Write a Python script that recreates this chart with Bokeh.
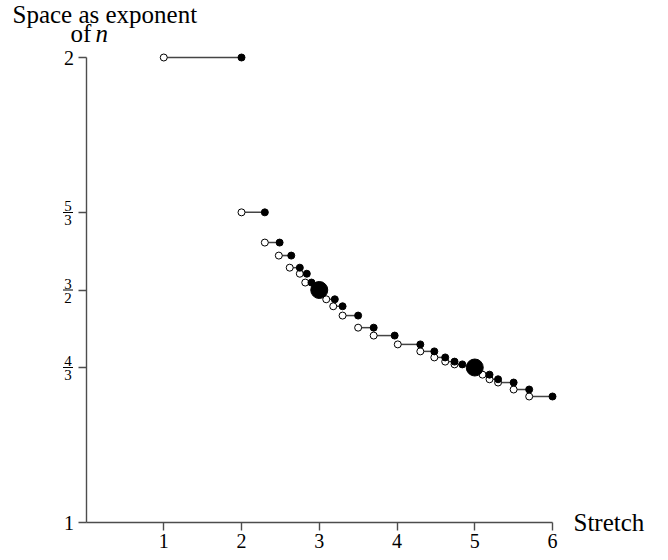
from bokeh.plotting import figure
from bokeh.models import Range1d, FixedTicker, ColumnDataSource
from bokeh.embed import file_html
from bokeh.resources import INLINE

# ---- data ----
seg_start = [1.00, 2.00, 2.30, 2.48, 2.62, 2.75, 2.82, 3.09, 3.18, 3.30, 3.50, 3.70, 4.01, 4.30, 4.48, 4.62, 4.74, 5.10, 5.19, 5.30, 5.50, 5.70]
seg_end = [2.00, 2.30, 2.49, 2.64, 2.75, 2.84, 2.90, 3.20, 3.30, 3.50, 3.70, 3.97, 4.30, 4.48, 4.62, 4.74, 4.84, 5.19, 5.30, 5.50, 5.70, 6.00]
space_exp = [2.0, 1.667, 1.602, 1.574, 1.548, 1.535, 1.516, 1.480, 1.465, 1.445, 1.419, 1.402,
             1.383, 1.368, 1.355, 1.346, 1.340, 1.318, 1.308, 1.301, 1.286, 1.271]
big_x = [3, 5]
big_y = [3 / 2, 4 / 3]

x_ticks = [1, 2, 3, 4, 5, 6]
y_ticks = [1, 4 / 3, 3 / 2, 5 / 3, 2]
y_plain_labels = {1: "1", 2: "2"}
frac_num = ["4", "3", "5"]
frac_den = ["3", "2", "3"]
frac_val = [4 / 3, 3 / 2, 5 / 3]

FONT = "Liberation Serif"
AX = "#4d4d4d"

# layout (pixels): canvas size, where x=0 / y=1 sit, pixels per unit
W, H = 668, 560
ORIG_X, ORIG_Y = 85.5, 522.0
PX_X, PX_Y = 77.75, 465.0


def dx(px):
    return (px - ORIG_X) / PX_X


def dy(py):
    return 1 + (ORIG_Y - py) / PX_Y


x_range = Range1d(dx(0), dx(W))
y_range = Range1d(dy(H), dy(0))

p = figure(width=W, height=H, x_range=x_range, y_range=y_range,
           output_backend="svg", toolbar_location=None,
           min_border=0, min_border_left=0, min_border_right=0,
           min_border_top=0, min_border_bottom=0)
p.outline_line_color = None
p.grid.visible = False
p.background_fill_color = "white"
p.border_fill_color = "white"

# axes, drawn through the frame at x=0 and y=1
p.xaxis.fixed_location = 1
p.yaxis.fixed_location = 0
p.xaxis.ticker = FixedTicker(ticks=x_ticks)
p.xaxis.bounds = (0, 6)
p.yaxis.ticker = FixedTicker(ticks=y_ticks)
p.yaxis.bounds = (1, 2)
p.yaxis.major_label_overrides = {t: y_plain_labels.get(t, "") for t in y_ticks}
for ax in (p.xaxis[0], p.yaxis[0]):
    ax.axis_line_color = AX
    ax.axis_line_width = 1.4
    ax.major_tick_line_color = AX
    ax.major_tick_line_width = 1.4
    ax.major_tick_in = 0
    ax.major_tick_out = 8
    ax.minor_tick_line_color = None
    ax.major_label_text_font = FONT
    ax.major_label_text_font_size = "20px"
    ax.major_label_text_color = "black"
p.xaxis.major_label_standoff = 3
p.yaxis.major_label_standoff = 4

# segments and markers
src = ColumnDataSource(dict(x0=seg_start, x1=seg_end, y=space_exp))
p.segment(x0="x0", y0="y", x1="x1", y1="y", source=src, line_color="#444444", line_width=1.5)
p.scatter(x="x0", y="y", source=src, marker="circle", size=7, fill_color="white",
          line_color="black", line_width=1)
p.scatter(x="x1", y="y", source=src, marker="circle", size=7, fill_color="black",
          line_color="black", line_width=1)
p.scatter(x=big_x, y=big_y, marker="circle", size=17, fill_color="black", line_color="black")

# stacked fraction tick labels
fsrc = ColumnDataSource(dict(num=frac_num, den=frac_den, y=frac_val,
                             x=[dx(67.5)] * len(frac_val)))
p.text(x="x", y="y", text="num", source=fsrc, y_offset=-1.5, text_align="center",
       text_baseline="bottom", text_font=FONT, text_font_size="15px", text_color="black")
p.text(x="x", y="y", text="den", source=fsrc, y_offset=2.5, text_align="center",
       text_baseline="top", text_font=FONT, text_font_size="15px", text_color="black")
p.scatter(x="x", y="y", source=fsrc, marker="dash", size=10, line_color="black", line_width=1)

# titles (pixel anchors converted to data space)
titles = ColumnDataSource(dict(
    x=[dx(12), dx(70)],
    y=[dy(14), dy(33)],
    t=["Space as exponent", "of"],
))
p.text(x="x", y="y", text="t", source=titles, text_align="left", text_baseline="middle",
       text_font=FONT, text_font_size="25px", text_color="black")
p.text(x=[dx(95)], y=[dy(33)], text=["n"], text_align="left", text_baseline="middle",
       text_font=FONT, text_font_style="italic", text_font_size="25px", text_color="black")
p.text(x=[dx(573)], y=[1], text=["Stretch"], text_align="left", text_baseline="middle",
       text_font=FONT, text_font_size="25px", text_color="black")

open("out.html", "w").write(file_html(p, INLINE))
